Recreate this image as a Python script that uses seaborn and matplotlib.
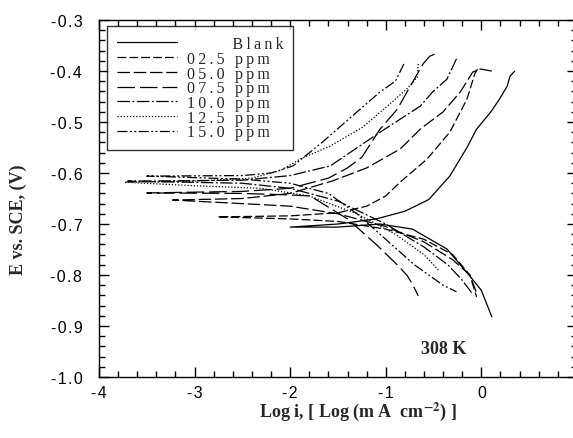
import numpy as np
import pandas as pd
import seaborn as sns
import matplotlib.pyplot as plt
from matplotlib.ticker import MultipleLocator, FuncFormatter
from matplotlib.lines import Line2D

labels = ["Blank", "02.5 ppm", "05.0 ppm", "07.5 ppm", "10.0 ppm", "12.5 ppm", "15.0 ppm"]

# anodic branches (log i, E) from corrosion potential upward, cathodic downward
blank_an_x = [-2.0, -1.5, -1.1, -0.8, -0.55, -0.33, -0.15, -0.05, 0.1, 0.19, 0.27, 0.30, 0.35]
blank_an_y = [-0.706, -0.700, -0.690, -0.675, -0.652, -0.606, -0.55, -0.514, -0.48, -0.455, -0.43, -0.41, -0.40]
blank_ca_x = [-2.0, -1.5, -1.06, -0.72, -0.36, -0.12, 0.0, 0.11]
blank_ca_y = [-0.706, -0.706, -0.700, -0.710, -0.749, -0.802, -0.83, -0.882]

p025_an_x = [-2.76, -2.0, -1.5, -1.2, -1.0, -0.85, -0.57, -0.33, -0.15, -0.07, -0.04]
p025_an_y = [-0.686, -0.684, -0.678, -0.665, -0.645, -0.618, -0.573, -0.52, -0.455, -0.406, -0.396]
p025_ca_x = [-2.76, -2.0, -1.5, -1.0, -0.6, -0.3, -0.12, -0.05]
p025_ca_y = [-0.686, -0.690, -0.695, -0.710, -0.730, -0.760, -0.800, -0.843]

p050_an_x = [-3.23, -2.5, -2.0, -1.55, -1.2, -0.85, -0.64, -0.40, -0.22, -0.09, -0.01, 0.11]
p050_an_y = [-0.653, -0.650, -0.640, -0.615, -0.590, -0.553, -0.514, -0.48, -0.441, -0.402, -0.396, -0.40]
p050_ca_x = [-3.23, -2.5, -2.0, -1.5, -1.0, -0.6, -0.3, -0.12, -0.04]
p050_ca_y = [-0.653, -0.660, -0.665, -0.680, -0.705, -0.735, -0.770, -0.800, -0.840]

p075_an_x = [-3.5, -2.5, -2.0, -1.6, -1.4, -1.25, -1.06, -0.88, -0.72, -0.61, -0.54, -0.49]
p075_an_y = [-0.639, -0.636, -0.630, -0.610, -0.590, -0.569, -0.514, -0.475, -0.422, -0.386, -0.371, -0.367]
p075_ca_x = [-3.5, -2.5, -2.0, -1.79, -1.4, -1.1, -0.88, -0.78, -0.72, -0.66]
p075_ca_y = [-0.639, -0.640, -0.643, -0.645, -0.690, -0.740, -0.780, -0.800, -0.818, -0.841]

p100_an_x = [-3.7, -2.5, -2.0, -1.58, -1.06, -0.64, -0.51, -0.36, -0.26]
p100_an_y = [-0.616, -0.614, -0.605, -0.586, -0.52, -0.469, -0.441, -0.416, -0.376]
p100_ca_x = [-3.7, -2.5, -2.0, -1.5, -1.0, -0.6, -0.35, -0.2, -0.1]
p100_ca_y = [-0.616, -0.620, -0.630, -0.655, -0.700, -0.745, -0.780, -0.810, -0.835]

p125_an_x = [-3.73, -3.0, -2.4, -2.1, -1.9, -1.58, -1.24, -0.96, -0.78, -0.67, -0.66]
p125_an_y = [-0.618, -0.616, -0.610, -0.595, -0.573, -0.547, -0.51, -0.465, -0.435, -0.412, -0.386]
p125_ca_x = [-3.73, -3.0, -2.3, -1.8, -1.3, -0.9, -0.6, -0.45]
p125_ca_y = [-0.618, -0.625, -0.630, -0.645, -0.680, -0.720, -0.760, -0.790]

p150_an_x = [-3.5, -2.5, -2.2, -1.97, -1.66, -1.30, -1.06, -0.90, -0.81]
p150_an_y = [-0.606, -0.605, -0.600, -0.586, -0.539, -0.480, -0.441, -0.420, -0.386]
p150_ca_x = [-3.5, -2.5, -2.0, -1.6, -1.3, -1.0, -0.7, -0.4, -0.26]
p150_ca_y = [-0.606, -0.612, -0.620, -0.640, -0.680, -0.730, -0.780, -0.820, -0.833]

curves = [
    (blank_an_x, blank_an_y, blank_ca_x, blank_ca_y),
    (p025_an_x, p025_an_y, p025_ca_x, p025_ca_y),
    (p050_an_x, p050_an_y, p050_ca_x, p050_ca_y),
    (p075_an_x, p075_an_y, p075_ca_x, p075_ca_y),
    (p100_an_x, p100_an_y, p100_ca_x, p100_ca_y),
    (p125_an_x, p125_an_y, p125_ca_x, p125_ca_y),
    (p150_an_x, p150_an_y, p150_ca_x, p150_ca_y),
]
styles = ["-", (0, (7, 2.5)), (0, (10, 3)), (0, (14, 4)), (0, (10, 2, 1.5, 2)),
          (0, (1, 1.5)), (0, (8, 2, 1.5, 2, 1.5, 2))]

HAIR = "\u200a"
THIN = "\u2009"


def spaced(s, gap=HAIR):
    # the original figure uses loosely letter-spaced text
    return gap.join(s)


sns.set_style("ticks")
plt.rcParams['font.family'] = ['Liberation Sans', 'DejaVu Sans']
plt.rcParams['mathtext.fontset'] = 'stix'
plt.rcParams['axes.unicode_minus'] = False

fig = plt.figure(figsize=(5.73, 4.39), dpi=100)
ax = fig.add_axes([0.1728, 0.139, 0.834, 0.813])

for (an_x, an_y, cx, cy), ls, lab in zip(curves, styles, labels):
    df = pd.DataFrame({"x": list(an_x[::-1]) + list(cx[1:]),
                       "y": list(an_y[::-1]) + list(cy[1:])})
    sns.lineplot(data=df, x="x", y="y", ax=ax, sort=False, estimator=None,
                 color="black", linewidth=0.9, linestyle=ls)

ax.set_xlim(-4, 1)
ax.set_ylim(-1.0, -0.3)
ax.xaxis.set_major_locator(MultipleLocator(1))
ax.xaxis.set_minor_locator(MultipleLocator(0.2))
ax.yaxis.set_major_locator(MultipleLocator(0.1))
ax.yaxis.set_minor_locator(MultipleLocator(0.02))
ax.xaxis.set_major_formatter(FuncFormatter(lambda v, p: spaced(f"{v:.0f}")))
ax.yaxis.set_major_formatter(FuncFormatter(lambda v, p: spaced(f"{v:.1f}")))
ax.tick_params(which="both", direction="in", top=True, right=True, labelsize=11.5, colors="black")
ax.tick_params(which="major", length=7, width=1)
ax.tick_params(which="minor", length=4, width=1)
ax.tick_params(axis="y", which="major", pad=12)
ax.tick_params(axis="x", which="major", pad=6)
for s in ax.spines.values():
    s.set_color("black")
    s.set_linewidth(1.0)

serif = ['Liberation Serif', 'DejaVu Serif']
ax.set_xlabel(r"Log i, [ Log (m A  cm$^{\mathbf{-2}}$) ]", family=serif, fontweight="bold",
              fontsize=13)
ax.xaxis.set_label_coords(0.542, -0.062)
ax.set_ylabel("E vs. SCE, (V)", family=serif, fontweight="bold", fontsize=13)
ax.yaxis.set_label_coords(-0.151, 0.443)
ax.text(-0.39, -0.945, "308 K", family=serif, fontweight="bold", fontsize=13,
        ha="center", va="center")

handles = [Line2D([], [], color="black", linewidth=0.9, linestyle=ls) for ls in styles]
leg_labels = [THIN * 14 + spaced("Blank", THIN)] + [spaced(l, THIN) for l in labels[1:]]
leg = ax.legend(handles, leg_labels, loc="upper left", bbox_to_anchor=(0.017, 0.982),
                borderaxespad=0, prop={'family': serif, 'size': 11.5}, frameon=True,
                fancybox=False, edgecolor="black", handlelength=3.8, labelspacing=-0.08,
                borderpad=0.6, handletextpad=0.6)
leg.get_frame().set_linewidth(1.0)

fig.savefig("out.png", dpi=100)
